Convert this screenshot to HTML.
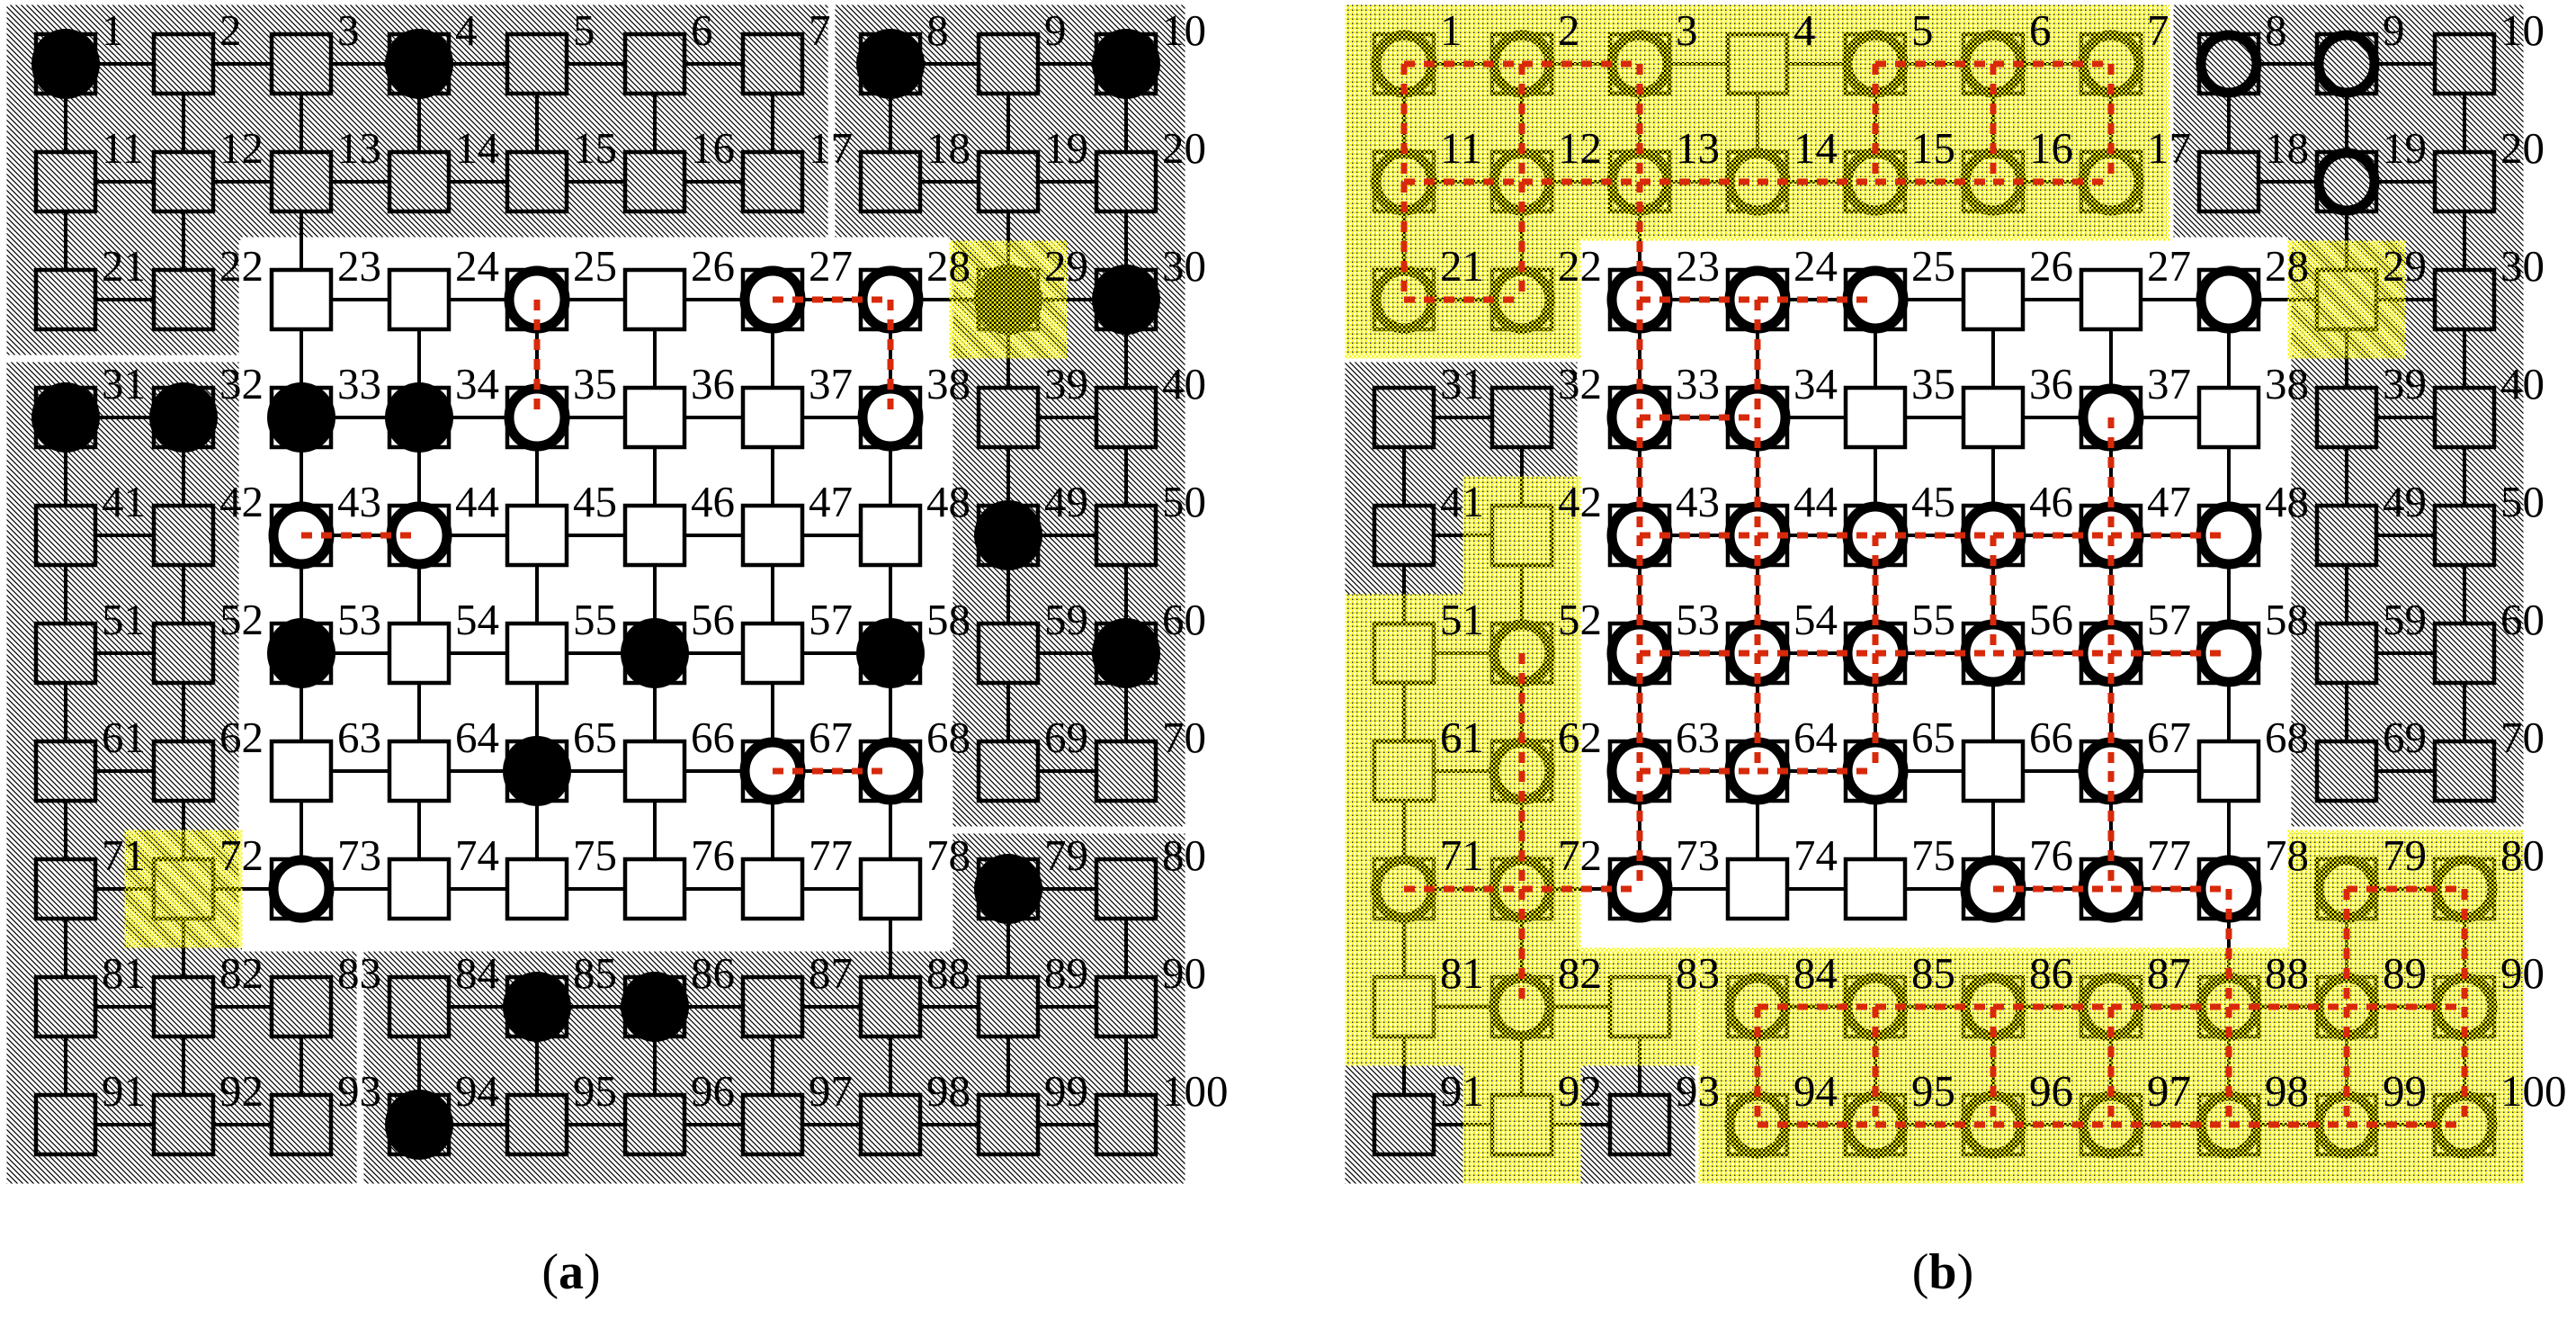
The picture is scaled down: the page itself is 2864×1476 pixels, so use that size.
<!DOCTYPE html>
<html><head><meta charset="utf-8"><style>
html,body{margin:0;padding:0;background:#fff;}
svg{display:block;}
text{font-family:"Liberation Serif",serif;font-size:49px;fill:#000;}
</style></head><body>
<svg id="S" xmlns="http://www.w3.org/2000/svg" width="2864" height="1476" viewBox="0 0 2864 1476">
<defs>
<pattern id="hatch" patternUnits="userSpaceOnUse" width="6" height="6">
<rect width="6" height="6" fill="#fff"/>
<path d="M0,0L6,6M5,-1L7,1M-1,5L1,7" stroke="#000" stroke-width="1.2"/>
</pattern>
<pattern id="dots" patternUnits="userSpaceOnUse" width="5" height="5">
<rect width="5" height="5" fill="#fff"/>
<rect x="3.1" y="0.5" width="1.4" height="1.4" fill="#000"/>
</pattern>
<pattern id="yel" patternUnits="userSpaceOnUse" width="5" height="5">
<rect x="0" y="0" width="2.5" height="2.5" fill="#f8f800"/>
<rect x="2.5" y="2.5" width="2.5" height="2.5" fill="#f8f800"/>
</pattern>
</defs>
<g id="shapes"></g>
<g id="labA">
<g transform="translate(0,50)"><text x="113">1</text><text x="244">2</text><text x="375">3</text><text x="506">4</text><text x="637">5</text><text x="768">6</text><text x="899">7</text><text x="1030">8</text><text x="1161">9</text><text x="1292">10</text></g>
<g transform="translate(0,181)"><text x="113">11</text><text x="244">12</text><text x="375">13</text><text x="506">14</text><text x="637">15</text><text x="768">16</text><text x="899">17</text><text x="1030">18</text><text x="1161">19</text><text x="1292">20</text></g>
<g transform="translate(0,312)"><text x="113">21</text><text x="244">22</text><text x="375">23</text><text x="506">24</text><text x="637">25</text><text x="768">26</text><text x="899">27</text><text x="1030">28</text><text x="1161">29</text><text x="1292">30</text></g>
<g transform="translate(0,443)"><text x="113">31</text><text x="244">32</text><text x="375">33</text><text x="506">34</text><text x="637">35</text><text x="768">36</text><text x="899">37</text><text x="1030">38</text><text x="1161">39</text><text x="1292">40</text></g>
<g transform="translate(0,574)"><text x="113">41</text><text x="244">42</text><text x="375">43</text><text x="506">44</text><text x="637">45</text><text x="768">46</text><text x="899">47</text><text x="1030">48</text><text x="1161">49</text><text x="1292">50</text></g>
<g transform="translate(0,705)"><text x="113">51</text><text x="244">52</text><text x="375">53</text><text x="506">54</text><text x="637">55</text><text x="768">56</text><text x="899">57</text><text x="1030">58</text><text x="1161">59</text><text x="1292">60</text></g>
<g transform="translate(0,836)"><text x="113">61</text><text x="244">62</text><text x="375">63</text><text x="506">64</text><text x="637">65</text><text x="768">66</text><text x="899">67</text><text x="1030">68</text><text x="1161">69</text><text x="1292">70</text></g>
<g transform="translate(0,967)"><text x="113">71</text><text x="244">72</text><text x="375">73</text><text x="506">74</text><text x="637">75</text><text x="768">76</text><text x="899">77</text><text x="1030">78</text><text x="1161">79</text><text x="1292">80</text></g>
<g transform="translate(0,1098)"><text x="113">81</text><text x="244">82</text><text x="375">83</text><text x="506">84</text><text x="637">85</text><text x="768">86</text><text x="899">87</text><text x="1030">88</text><text x="1161">89</text><text x="1292">90</text></g>
<g transform="translate(0,1229)"><text x="113">91</text><text x="244">92</text><text x="375">93</text><text x="506">94</text><text x="637">95</text><text x="768">96</text><text x="899">97</text><text x="1030">98</text><text x="1161">99</text><text x="1292">100</text></g>
</g>
<g id="labB" transform="translate(1488,0)">
<g transform="translate(0,50)"><text x="113">1</text><text x="244">2</text><text x="375">3</text><text x="506">4</text><text x="637">5</text><text x="768">6</text><text x="899">7</text><text x="1030">8</text><text x="1161">9</text><text x="1292">10</text></g>
<g transform="translate(0,181)"><text x="113">11</text><text x="244">12</text><text x="375">13</text><text x="506">14</text><text x="637">15</text><text x="768">16</text><text x="899">17</text><text x="1030">18</text><text x="1161">19</text><text x="1292">20</text></g>
<g transform="translate(0,312)"><text x="113">21</text><text x="244">22</text><text x="375">23</text><text x="506">24</text><text x="637">25</text><text x="768">26</text><text x="899">27</text><text x="1030">28</text><text x="1161">29</text><text x="1292">30</text></g>
<g transform="translate(0,443)"><text x="113">31</text><text x="244">32</text><text x="375">33</text><text x="506">34</text><text x="637">35</text><text x="768">36</text><text x="899">37</text><text x="1030">38</text><text x="1161">39</text><text x="1292">40</text></g>
<g transform="translate(0,574)"><text x="113">41</text><text x="244">42</text><text x="375">43</text><text x="506">44</text><text x="637">45</text><text x="768">46</text><text x="899">47</text><text x="1030">48</text><text x="1161">49</text><text x="1292">50</text></g>
<g transform="translate(0,705)"><text x="113">51</text><text x="244">52</text><text x="375">53</text><text x="506">54</text><text x="637">55</text><text x="768">56</text><text x="899">57</text><text x="1030">58</text><text x="1161">59</text><text x="1292">60</text></g>
<g transform="translate(0,836)"><text x="113">61</text><text x="244">62</text><text x="375">63</text><text x="506">64</text><text x="637">65</text><text x="768">66</text><text x="899">67</text><text x="1030">68</text><text x="1161">69</text><text x="1292">70</text></g>
<g transform="translate(0,967)"><text x="113">71</text><text x="244">72</text><text x="375">73</text><text x="506">74</text><text x="637">75</text><text x="768">76</text><text x="899">77</text><text x="1030">78</text><text x="1161">79</text><text x="1292">80</text></g>
<g transform="translate(0,1098)"><text x="113">81</text><text x="244">82</text><text x="375">83</text><text x="506">84</text><text x="637">85</text><text x="768">86</text><text x="899">87</text><text x="1030">88</text><text x="1161">89</text><text x="1292">90</text></g>
<g transform="translate(0,1229)"><text x="113">91</text><text x="244">92</text><text x="375">93</text><text x="506">94</text><text x="637">95</text><text x="768">96</text><text x="899">97</text><text x="1030">98</text><text x="1161">99</text><text x="1292">100</text></g>
</g>
<text x="635" y="1432" text-anchor="middle" style="font-size:56px">(<tspan font-weight="bold">a</tspan>)</text>
<text x="2160" y="1432" text-anchor="middle" style="font-size:56px">(<tspan font-weight="bold">b</tspan>)</text>
</svg>
<script>
(function(){
var NS='http://www.w3.org/2000/svg';
function el(t,a,p){var e=document.createElementNS(NS,t);for(var k in a)e.setAttribute(k,a[k]);p.appendChild(e);return e;}
var root=document.getElementById('shapes');
function region(r,c){
 if(r<=1) return c<=6?'A':'B';
 if(r==2){ if(c<=1) return 'A'; if(c>=8) return 'B'; return 'W'; }
 if(r<=6){ if(c<=1) return 'C'; if(c>=8) return 'B'; return 'W'; }
 if(r==7){ if(c<=1) return 'C'; if(c>=8) return 'D'; return 'W'; }
 return c<=2?'C':'D';
}
var missing={};
'7-8 17-18 18-28 21-31 22-32 32-33 42-43 52-53 62-63 38-39 48-49 58-59 68-69 69-79 70-80 78-79 83-84 93-94 73-83 74-84 75-85 76-86 77-87 14-24 15-25 16-26 17-27 22-23'.split(' ').forEach(function(s){missing[s]=1;});
var typesA=('BqqBqqqBqB'+'qqqqqqqqqq'+'qqqqOqOOBB'+'BBBBOqqOqq'+'qqOOqqqqBq'+'qqBqqBqBqB'+'qqqqBqOOqq'+'qqOqqqqqBq'+'qqqqBBqqqq'+'qqqBqqqqqq');
var typesB=('OOOqOOOOOq'+'OOOOOOOqOq'+'OOOOOqqOqq'+'qqOOqqOqqq'+'qqOOOOOOqq'+'qOOOOOOOqq'+'qOOOOqOqqq'+'OOOqqOOOOO'+'qOqOOOOOOO'+'qqqOOOOOOO');
var redA='25-35 27-28 28-38 43-44 67-68';
var redB='1-2 2-3 5-6 6-7 1-11 2-12 3-13 5-15 6-16 7-17 11-12 12-13 13-14 14-15 15-16 16-17 11-21 12-22 21-22 13-23 23-24 24-25 23-33 24-34 33-34 33-43 34-44 37-47 43-44 44-45 45-46 46-47 47-48 43-53 44-54 45-55 46-56 47-57 53-54 54-55 55-56 56-57 57-58 53-63 54-64 55-65 57-67 63-64 64-65 63-73 67-77 71-72 72-73 76-77 77-78 52-62 62-72 72-82 78-88 84-85 85-86 86-87 87-88 88-89 89-90 84-94 85-95 86-96 87-97 88-98 89-99 90-100 79-80 79-89 80-90 94-95 95-96 96-97 97-98 98-99 99-100';
function bgA(n,reg){ return {bg: reg=='W'?'w':'h', y: (n==29||n==72)}; }
function bgB(n,reg){
 if(reg=='W') return {bg:'w',y:false};
 if(reg=='A'||reg=='D') return {bg:'d',y:true};
 if(reg=='B') return {bg:'h',y:n==29};
 if([31,32,41,91,93].indexOf(n)>=0) return {bg:'h',y:false};
 return {bg:'d',y:true};
}
var fillOf={w:'#fff',h:'url(#hatch)',d:'url(#dots)'};
function panel(off,types,reds,bgf){
 var g=el('g',{},root);
 var L={bg:el('g',{},g),gap:el('g',{},g),edge:el('g',{stroke:'#000','stroke-width':4},g),node:el('g',{},g),ov:el('g',{},g),red:el('g',{stroke:'#d8290a','stroke-width':7,'stroke-dasharray':'12 10'},g)};
 function cx(c){return off+73+131*c;} function cy(r){return 71+131*r;}
 var info=[];
 for(var r=0;r<10;r++)for(var c=0;c<10;c++){
  var n=r*10+c+1, reg=region(r,c), b=bgf(n,reg);
  info[n]={r:r,c:c,reg:reg,bg:b.bg,y:b.y};
  if(b.bg!='w') el('rect',{x:cx(c)-65.5,y:cy(r)-65.5,width:131,height:131,fill:fillOf[b.bg]},L.bg);
  if(b.y) el('rect',{x:cx(c)-65.5,y:cy(r)-65.5,width:131,height:131,fill:'url(#yel)'},L.ov);
 }
 for(var r=0;r<10;r++)for(var c=0;c<10;c++){
  var a=info[r*10+c+1];
  if(c<9){var b=info[r*10+c+2]; if(a.reg!=b.reg && (a.reg!='W'||b.reg!='W')) el('rect',{x:cx(c)+65.5-4,y:cy(r)-66,width:8,height:132,fill:'#fff'},L.gap);}
  if(r<9){var b=info[(r+1)*10+c+1]; if(a.reg!=b.reg && (a.reg!='W'||b.reg!='W')) el('rect',{x:cx(c)-66,y:cy(r)+65.5-4,width:132,height:8,fill:'#fff'},L.gap);}
 }
 for(var r=0;r<10;r++)for(var c=0;c<10;c++){
  var n=r*10+c+1;
  if(c<9 && !missing[n+'-'+(n+1)]) el('line',{x1:cx(c),y1:cy(r),x2:cx(c+1),y2:cy(r)},L.edge);
  if(r<9 && !missing[n+'-'+(n+10)]) el('line',{x1:cx(c),y1:cy(r),x2:cx(c),y2:cy(r+1)},L.edge);
 }
 for(var n=1;n<=100;n++){
  var o=info[n], x=cx(o.c), y=cy(o.r), f=fillOf[o.bg], t=types[n-1];
  el('rect',{x:x-33,y:y-33,width:66,height:66,fill:f,stroke:'#000','stroke-width':4.5},L.node);
  if(t=='B') el('ellipse',{cx:x,cy:y,rx:38,ry:39,fill:'#000'},L.node);
  if(t=='O') el('ellipse',{cx:x,cy:y,rx:31,ry:32,fill:f,stroke:'#000','stroke-width':11},L.node);
 }
 reds.split(' ').forEach(function(s){
  var p=s.split('-'),a=info[+p[0]],b=info[+p[1]];
  el('line',{x1:cx(a.c),y1:cy(a.r),x2:cx(b.c),y2:cy(b.r)},L.red);
 });
}
panel(0,typesA,redA,bgA);
panel(1488,typesB,redB,bgB);
})();
</script>
</body></html>
